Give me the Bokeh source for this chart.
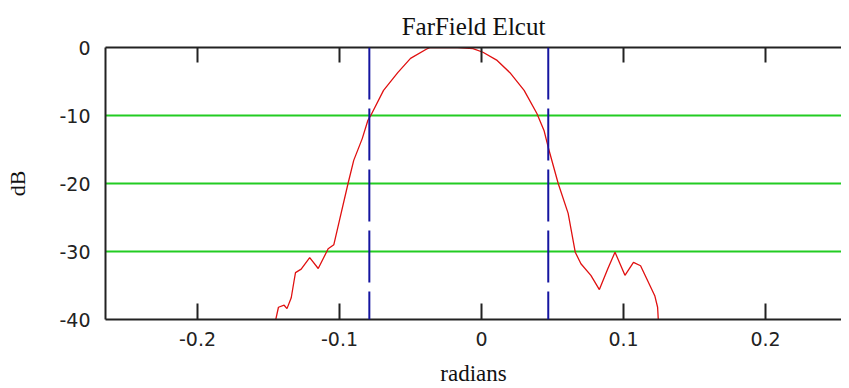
from bokeh.plotting import figure
from bokeh.models import Range1d, FixedTicker, LinearAxis, Span
from bokeh.embed import file_html
from bokeh.resources import INLINE

# data
angle = [-0.147, -0.145, -0.143, -0.139, -0.137, -0.134, -0.132, -0.131, -0.127, -0.121,
         -0.115, -0.108, -0.104, -0.100, -0.094, -0.090, -0.084, -0.080, -0.078, -0.069,
         -0.059, -0.050, -0.038, -0.036, -0.017, -0.006, 0.001, 0.011, 0.020, 0.030,
         0.039, 0.044, 0.047, 0.054, 0.061, 0.066, 0.070, 0.077, 0.083, 0.089,
         0.094, 0.101, 0.107, 0.112, 0.117, 0.122, 0.124, 0.125]
gain_db = [-42, -40.1, -38.2, -37.9, -38.4, -36.8, -34.3, -33.1, -32.6, -30.9,
           -32.5, -29.6, -29.0, -25.4, -20.0, -16.6, -13.4, -10.7, -10.0, -6.3,
           -3.7, -1.6, -0.15, 0, 0, -0.15, -0.7, -1.9, -3.7, -6.3,
           -9.7, -12.2, -14.7, -20.0, -24.4, -30.1, -31.8, -33.5, -35.6, -32.5,
           -30.1, -33.5, -31.6, -32.1, -34.3, -36.5, -38.2, -42]
markers = [-0.079, 0.047]
x_ticks = [-0.2, -0.1, 0, 0.1, 0.2]
x_tick_labels = ["-0.2", "-0.1", "0", "0.1", "0.2"]
y_ticks = [-40, -30, -20, -10, 0]
y_tick_labels = ["-40", "-30", "-20", "-10", "0"]
grid_levels = [-30, -20, -10]

p = figure(width=841, height=388, output_backend="svg", toolbar_location=None,
           x_range=Range1d(-0.2648, 0.2535), y_range=Range1d(-40, 0),
           min_border_left=105, min_border_right=0, min_border_top=47, min_border_bottom=69,
           x_axis_label="radians", y_axis_label="dB")
p.outline_line_color = None
p.background_fill_color = "white"
p.border_fill_color = "white"

p.title.text = "FarField Elcut"
p.title.align = "center"
p.title.text_font = "Liberation Serif"
p.title.text_font_size = "25px"
p.title.text_font_style = "normal"
p.title.text_color = "#111111"
p.title.offset = -4
p.title.standoff = 15

serif = "Liberation Serif"
sans = "DejaVu Sans"

xa = p.xaxis[0]
xa.ticker = FixedTicker(ticks=x_ticks)
xa.major_label_overrides = {t: l for t, l in zip(x_ticks, x_tick_labels)}
xa.major_tick_in = 16
xa.major_tick_out = 0
xa.minor_tick_in = 0
xa.minor_tick_out = 0
xa.major_tick_line_color = "#222222"
xa.major_tick_line_width = 2
xa.axis_line_color = "#222222"
xa.axis_line_width = 2
xa.major_label_text_font = sans
xa.major_label_text_font_size = "19px"
xa.major_label_text_color = "#222222"
xa.major_label_standoff = 12
xa.axis_label_text_font = serif
xa.axis_label_text_font_size = "23px"
xa.axis_label_text_font_style = "normal"
xa.axis_label_text_color = "#111111"
xa.axis_label_standoff = 12

ya = p.yaxis[0]
ya.ticker = FixedTicker(ticks=y_ticks)
ya.major_label_overrides = {t: l for t, l in zip(y_ticks, y_tick_labels)}
ya.major_tick_in = 0
ya.major_tick_out = 0
ya.minor_tick_in = 0
ya.minor_tick_out = 0
ya.axis_line_color = "#222222"
ya.axis_line_width = 2
ya.major_label_text_font = sans
ya.major_label_text_font_size = "19px"
ya.major_label_text_color = "#222222"
ya.major_label_standoff = 15
ya.axis_label_text_font = serif
ya.axis_label_text_font_size = "22px"
ya.axis_label_text_font_style = "normal"
ya.axis_label_text_color = "#111111"
ya.axis_label_standoff = 26

top = LinearAxis(ticker=FixedTicker(ticks=x_ticks))
top.major_tick_in = 15
top.major_tick_out = 0
top.minor_tick_in = 0
top.minor_tick_out = 0
top.major_tick_line_color = "#222222"
top.major_tick_line_width = 2
top.axis_line_color = "#222222"
top.axis_line_width = 2
top.major_label_text_font_size = "1px"
top.major_label_text_alpha = 0
top.major_label_standoff = 0
p.add_layout(top, "above")

p.xgrid.grid_line_color = None
p.ygrid.ticker = FixedTicker(ticks=grid_levels)
p.ygrid.grid_line_color = "#22cc22"
p.ygrid.grid_line_width = 2
p.ygrid.grid_line_alpha = 1

for m in markers:
    p.add_layout(Span(location=m, dimension="height", line_color="#1515a0",
                      line_width=2, line_dash="52 9"))

p.line(angle, gain_db, line_color="#e01010", line_width=1.3)

open("out.html", "w").write(file_html(p, INLINE))
